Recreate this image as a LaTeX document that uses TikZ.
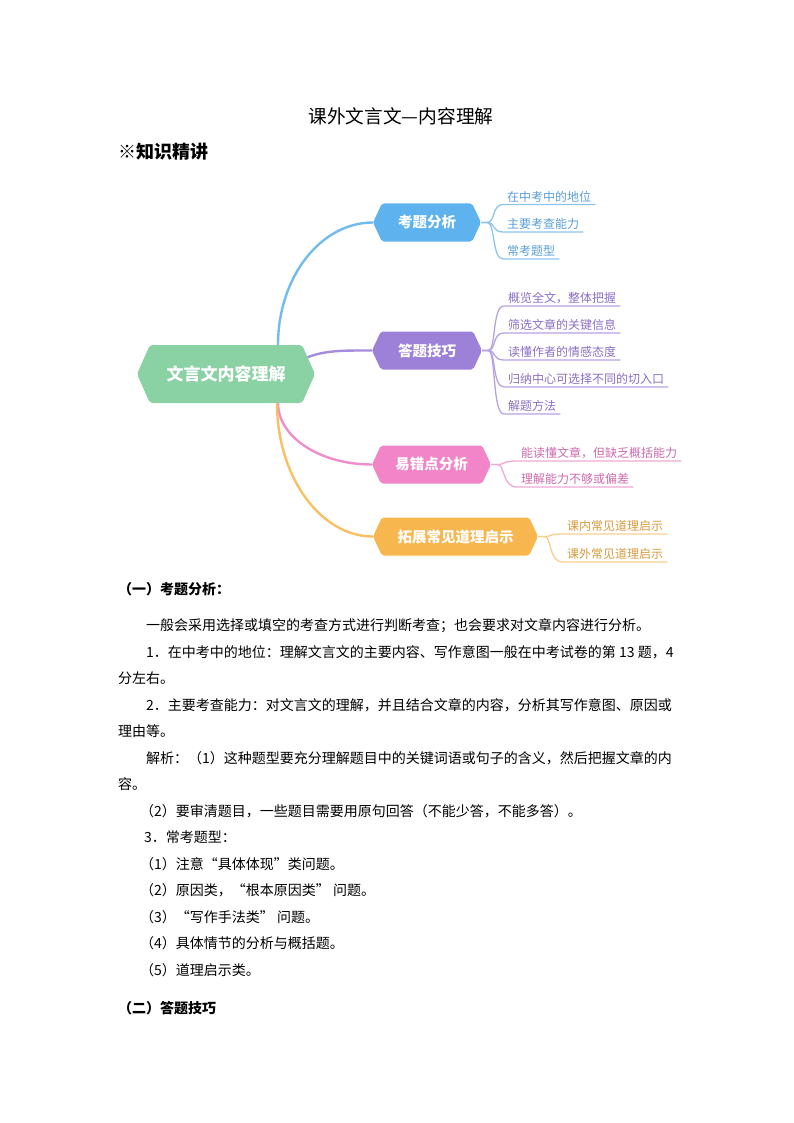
\documentclass[tikz,border=0pt]{standalone}
\usepackage{fontspec}
\setmainfont{Noto Sans CJK SC}
\usetikzlibrary{shapes.symbols,calc,backgrounds}
\XeTeXlinebreaklocale "zh"
\XeTeXlinebreakskip=0pt plus 2pt
\definecolor{rootg}{HTML}{8AD2A4}
\definecolor{bfill}{HTML}{5EB3EF}
\definecolor{bline}{HTML}{72BBEE}
\definecolor{btext}{HTML}{5A9ED6}
\definecolor{bleaf}{HTML}{8CC4EC}
\definecolor{pfill}{HTML}{9D80D8}
\definecolor{pline}{HTML}{A68CDC}
\definecolor{ptext}{HTML}{8B6FC4}
\definecolor{pleaf}{HTML}{B7A2E2}
\definecolor{kfill}{HTML}{F285C8}
\definecolor{kline}{HTML}{EE8ECA}
\definecolor{ktext}{HTML}{CC6BAC}
\definecolor{kleaf}{HTML}{F0A8D6}
\definecolor{ofill}{HTML}{F8B64E}
\definecolor{oline}{HTML}{F8BF63}
\definecolor{otext}{HTML}{D69A3C}
\definecolor{oleaf}{HTML}{F7CF8F}
\tikzset{
  hexbox/.style={shape=signal, signal to=west and east, signal pointer angle=130,
    draw=none, inner sep=0pt, text=white, minimum height=38pt, rounded corners=2pt,
    font=\bfseries\fontsize{14.5}{16}\selectfont},
  rootbox/.style={shape=signal, signal to=west and east, signal pointer angle=132,
    draw=none, inner sep=0pt, text=white, minimum height=58pt, minimum width=178pt,
    rounded corners=3pt, fill=rootg, font=\bfseries\fontsize{17}{20}\selectfont},
  leaf/.style={anchor=south west, inner xsep=4pt, inner ysep=3pt, text depth=0pt,
    font=\fontsize{12}{14}\selectfont},
  mainline/.style={line width=2.4pt, line cap=round},
  leafline/.style={line width=1.3pt},
  body/.style={anchor=base west, inner sep=0pt, font=\fontsize{14}{16}\selectfont},
  bodyb/.style={body, font=\bfseries\fontsize{14}{16}\selectfont},
  jline/.style={body, text width=528pt, align=justify}
}
\begin{document}
\begin{tikzpicture}[x=1pt,y=-1pt]
\useasboundingbox (0,0) rectangle (794,1123);
% title
\node[anchor=base, inner sep=0pt, font=\fontsize{18.7}{20}\selectfont] (title) at (401,124) {课外文言文—内容理解};
\node[anchor=base west, inner sep=0pt, font=\bfseries\fontsize{18}{20}\selectfont] (sect) at (118,159) {※知识精讲};
% mind map nodes
\node[rootbox] (R) at (226,374) {文言文内容理解};
\node[hexbox, fill=bfill, minimum width=108pt] (B1) at (427,222.5) {考题分析};
\node[hexbox, fill=pfill, minimum width=110pt] (B2) at (427,350.5) {答题技巧};
\node[hexbox, fill=kfill, minimum width=119pt] (B3) at (431.5,464.5) {易错点分析};
\node[hexbox, fill=ofill, minimum width=165pt] (B4) at (455.5,536.5) {拓展常见道理启示};
% leaves
\node[leaf, text=btext] (L11) at (503,204.5) {在中考中的地位};
\node[leaf, text=btext] (L12) at (503,232) {主要考查能力};
\node[leaf, text=btext] (L13) at (503,259) {常考题型};
\node[leaf, text=ptext] (L21) at (504,306) {概览全文，整体把握};
\node[leaf, text=ptext] (L22) at (504,333) {筛选文章的关键信息};
\node[leaf, text=ptext] (L23) at (504,360) {读懂作者的情感态度};
\node[leaf, text=ptext] (L24) at (504,387) {归纳中心可选择不同的切入口};
\node[leaf, text=ptext] (L25) at (504,414) {解题方法};
\node[leaf, text=ktext] (L31) at (517,461) {能读懂文章，但缺乏概括能力};
\node[leaf, text=ktext] (L32) at (517,487) {理解能力不够或偏差};
\node[leaf, text=otext] (L41) at (563,534) {课内常见道理启示};
\node[leaf, text=otext] (L42) at (563,562) {课外常见道理启示};
\begin{scope}[on background layer]
\draw[mainline, bline] ($(R.center)+(52,0)$) -- ($(R.center)+(52,-29)$)
  .. controls ($(R.center)+(52,-97)$) and ($(B1.west)+(-52,0)$) .. (B1.west);
\draw[mainline, pline] ($(R.center)+(60,-6)$)
  .. controls ($(R.center)+(90,-24)$) and ($(B2.west)+(-40,0)$) .. (B2.west);
\draw[mainline, kline] ($(R.center)+(52,0)$) -- ($(R.center)+(52,29)$)
  .. controls ($(R.center)+(52,63)$) and ($(B3.west)+(-52,0)$) .. (B3.west);
\draw[mainline, oline] ($(R.center)+(51,0)$) -- ($(R.center)+(51,29)$)
  .. controls ($(R.center)+(51,103)$) and ($(B4.west)+(-52,0)$) .. (B4.west);
\foreach \l in {L11,L12,L13}
  \draw[leafline, bleaf] (B1.east) -- ++(6,0) .. controls +(8,0) and +(-11,0) .. (\l.south west) -- (\l.south east);
\foreach \l in {L21,L22,L23,L24,L25}
  \draw[leafline, pleaf] (B2.east) -- ++(6,0) .. controls +(8,0) and +(-12,0) .. (\l.south west) -- (\l.south east);
\foreach \l in {L31,L32}
  \draw[leafline, kleaf] (B3.east) -- ++(6,0) .. controls +(8,0) and +(-15,0) .. (\l.south west) -- (\l.south east);
\foreach \l in {L41,L42}
  \draw[leafline, oleaf] (B4.east) -- ++(6,0) .. controls +(8,0) and +(-15,0) .. (\l.south west) -- (\l.south east);
\end{scope}
% body text
\node[bodyb] (h1) at (118,594) {（一）考题分析：};
\node[body] (t1) at (146,630) {一般会采用选择或填空的考查方式进行判断考查；也会要求对文章内容进行分析。};
\node[jline] (t2) at (146,657) {\parfillskip=0pt\relax 1．在中考中的地位：理解文言文的主要内容、写作意图一般在中考试卷的第 13 题，4};
\node[body] (t3) at (118,683) {分左右。};
\node[jline] (t4) at (146,710) {\parfillskip=0pt\relax 2．主要考查能力：对文言文的理解，并且结合文章的内容，分析其写作意图、原因或};
\node[body] (t5) at (118,736) {理由等。};
\node[jline] (t6) at (146,763) {\parfillskip=0pt\relax 解析：（1）这种题型要充分理解题目中的关键词语或句子的含义，然后把握文章的内};
\node[body] (t7) at (118,789) {容。};
\node[body] (t8) at (140,816) {（2）要审清题目，一些题目需要用原句回答（不能少答，不能多答）。};
\node[body] (t9) at (144,842) {3．常考题型：};
\node[body] (t10) at (140,869) {（1）注意“具体体现”类问题。};
\node[body] (t11) at (140,895) {（2）原因类，“根本原因类” 问题。};
\node[body] (t12) at (140,922) {（3）“写作手法类” 问题。};
\node[body] (t13) at (140,948) {（4）具体情节的分析与概括题。};
\node[body] (t14) at (140,975) {（5）道理启示类。};
\node[bodyb] (h2) at (118,1013) {（二）答题技巧};
\end{tikzpicture}
\end{document}
